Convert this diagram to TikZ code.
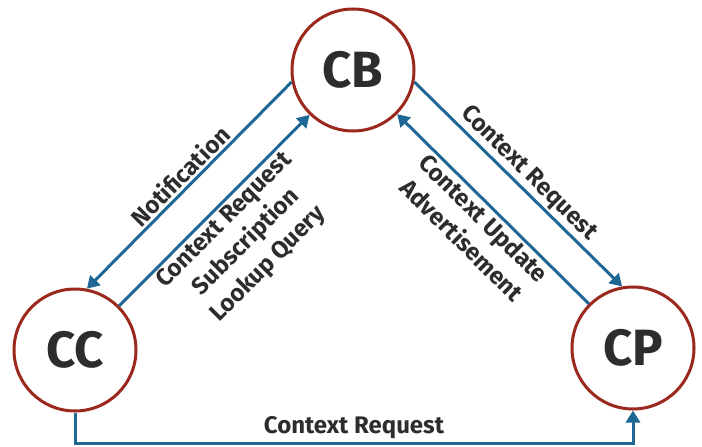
\documentclass[tikz,border=0pt]{standalone}
\usepackage{fontspec}
\setmainfont{Fira Sans}
\usetikzlibrary{arrows.meta}
\definecolor{ringred}{RGB}{155,40,28}
\definecolor{linkblue}{RGB}{31,104,150}
\definecolor{txtgray}{RGB}{45,45,45}
\tikzset{
  entity/.style={shape=circle, draw=ringred, line width=3pt, fill=white, minimum size=122pt, inner sep=0pt, text=txtgray, font=\fontsize{51}{51}\selectfont\bfseries},
  link/.style={draw=linkblue, line width=3pt, -{Triangle[length=12pt,width=14pt]}},
  msg/.style={text=txtgray, align=center, inner sep=2pt, font=\fontsize{24}{31}\selectfont\bfseries}
}
\begin{document}
\begin{tikzpicture}[x=1pt,y=-1pt]
\useasboundingbox (0,0) rectangle (702,447);

%draw the three entities
\node [entity] at (353,70) (cb) {CB};
\node [entity] at (75,350) (cc) {CC};
\node [entity] at (633,348) (cp) {CP};

%left side: CB and CC
\draw [link] (cb.191) -- node[msg, sloped, above] {Notification} (cc.79);
\draw [link] (cc.45) -- node[msg, sloped, below] {Context Request\\Subscription\\Lookup Query} (cb.226);

%right side: CB and CP
\draw [link] (cb.349) -- node[msg, sloped, above] {Context Request} (cp.100);
\draw [link, {Triangle[length=12pt,width=14pt]}-] (cb.315) -- node[msg, sloped, below] {Context Update\\Advertisement} (cp.135);

%bottom: CC to CP
\draw [link] (cc.south) -- ++(0,31) -| node[msg, pos=0.25, above=1pt] {Context Request} (cp.south);

\end{tikzpicture}
\end{document}
